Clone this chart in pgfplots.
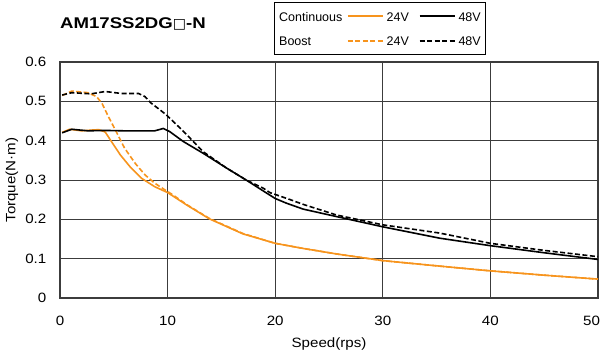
\documentclass[border=0pt]{standalone}
\usepackage{pgfplots}
\pgfplotsset{compat=1.18}
\usepackage{fontspec}
\setmainfont{Liberation Sans}
\newfontfamily\axfont[FakeStretch=1.12]{Liberation Sans}
\newfontfamily\titlefont[FakeStretch=1.2]{Liberation Sans}
\newfontfamily\symfont{DejaVu Sans}
\definecolor{orng}{RGB}{247,148,29}
\definecolor{gridc}{RGB}{60,60,60}
\begin{document}
\begin{tikzpicture}[font=\fontsize{12.5bp}{15bp}\selectfont]
\useasboundingbox (-60bp,-56bp) rectangle (540bp,298bp);
\begin{axis}[
  at={(0,0)}, anchor=south west,
  scale only axis, width=538bp, height=236bp,
  xmin=0, xmax=50, ymin=0, ymax=0.6,
  xtick={0,10,...,50}, ytick={0,0.1,...,0.6},
  xticklabels={0,10,20,30,40,{\hspace*{-13bp}50}},
  yticklabels={0,0.1,0.2,0.3,0.4,0.5,0.6},
  /pgf/number format/assume math mode=true,
  major tick length=0pt,
  grid=major,
  major grid style={draw=gridc, line width=1bp},
  axis line style={draw=gridc, line width=1.1bp},
  tick label style={font=\axfont\fontsize{13.5bp}{16bp}\selectfont},
  label style={font=\axfont\fontsize{13.5bp}{16bp}\selectfont},
  xticklabel style={inner sep=0pt, anchor=base, yshift=-27bp},
  yticklabel style={inner sep=0pt, anchor=east, xshift=-13.5bp},
  xlabel={Speed(rps)},
  ylabel={Torque(N·m)},
  xlabel style={inner sep=0pt, anchor=base, at={(axis description cs:0.5,0)}, yshift=-49bp},
  ylabel style={inner sep=0pt, anchor=center, at={(axis description cs:0,0.5)}, yshift=48bp},
  title={\titlefont\fontsize{15.5bp}{18bp}\selectfont\bfseries AM17SS2DG{\symfont\mdseries\fontsize{14bp}{16bp}\selectfont □}-N},
  title style={inner sep=0pt, anchor=base west, at={(axis description cs:0,1)}, yshift=27.7bp},
  legend columns=3,
  legend cell align=left,
  legend image code/.code={\draw[line width=1.7bp,#1] (0bp,0bp) -- (35bp,0bp);},
  legend style={at={(0.3978,1.2542)}, anchor=north west, draw=black, line width=1.3bp,
    inner xsep=4.5bp, inner ysep=6.5bp, row sep=10.5bp, column sep=0pt,
    nodes={inner sep=0pt, text height=12bp, text depth=2bp},
    /tikz/column 2/.style={column sep=4.5bp},
    /tikz/column 3/.style={column sep=3bp},
    /tikz/column 4/.style={column sep=10bp},
    /tikz/column 5/.style={column sep=3bp}},
  every axis plot/.append style={line width=1.6bp, line join=round},
]
% Continuous 24V
\addplot[orng, forget plot] coordinates {
(0.2,0.421) (0.9,0.429) (2.0,0.425) (3.0,0.427) (3.6,0.428) (4.2,0.422) (4.8,0.397)
(5.6,0.364) (6.5,0.334) (7.6,0.304) (8.8,0.283) (10,0.268) (11.8,0.236) (13.9,0.201)
(17,0.163) (20,0.139) (22.6,0.126) (25.7,0.112) (30,0.095) (35.3,0.081) (40,0.069)
(45,0.058) (50,0.048)};
% Boost 24V
\addplot[orng, dash pattern=on 5bp off 2.5bp, forget plot] coordinates {
(0.2,0.515) (1.1,0.526) (2.6,0.522) (3.4,0.512) (3.9,0.495) (4.5,0.461) (5.3,0.419)
(6.0,0.381) (7.0,0.342) (7.9,0.313) (8.8,0.292) (9.75,0.275) (10.5,0.262) (11.8,0.237)
(13.9,0.202) (17,0.164) (20,0.139) (22.6,0.126) (25.7,0.112) (30,0.095) (35.3,0.081)
(40,0.069) (45,0.058) (50,0.048)};
% Continuous 48V
\addplot[black, forget plot] coordinates {
(0.2,0.42) (1.1,0.429) (2.6,0.425) (4.2,0.426) (6,0.425) (8.8,0.425) (9.6,0.431)
(10.2,0.423) (11.45,0.398) (13.3,0.368) (15.5,0.33) (17.3,0.30) (18.9,0.272) (20,0.253)
(21.05,0.241) (22.6,0.226) (25.7,0.207) (30,0.181) (35.3,0.152) (40,0.133) (45,0.115)
(50,0.098)};
% Boost 48V
\addplot[black, dash pattern=on 5bp off 2.5bp, forget plot] coordinates {
(0.2,0.516) (1.1,0.522) (2.9,0.519) (4.2,0.525) (5.7,0.52) (7.3,0.52) (7.9,0.512)
(8.4,0.497) (9.4,0.476) (9.9,0.465) (10.7,0.444) (11.5,0.423) (13.3,0.372) (15.5,0.33)
(17.3,0.30) (18.9,0.279) (19.5,0.268) (21.4,0.25) (22.6,0.238) (25.7,0.211) (30,0.186)
(35.3,0.165) (40,0.139) (45,0.121) (50,0.105)};
\addlegendimage{empty legend}\addlegendentry{Continuous}
\addlegendimage{draw=orng, solid}\addlegendentry{24V}
\addlegendimage{draw=black, solid}\addlegendentry{48V}
\addlegendimage{empty legend}\addlegendentry{Boost}
\addlegendimage{draw=orng, dash pattern=on 5bp off 2.5bp}\addlegendentry{24V}
\addlegendimage{draw=black, dash pattern=on 5bp off 2.5bp}\addlegendentry{48V}
\end{axis}
\end{tikzpicture}
\end{document}
